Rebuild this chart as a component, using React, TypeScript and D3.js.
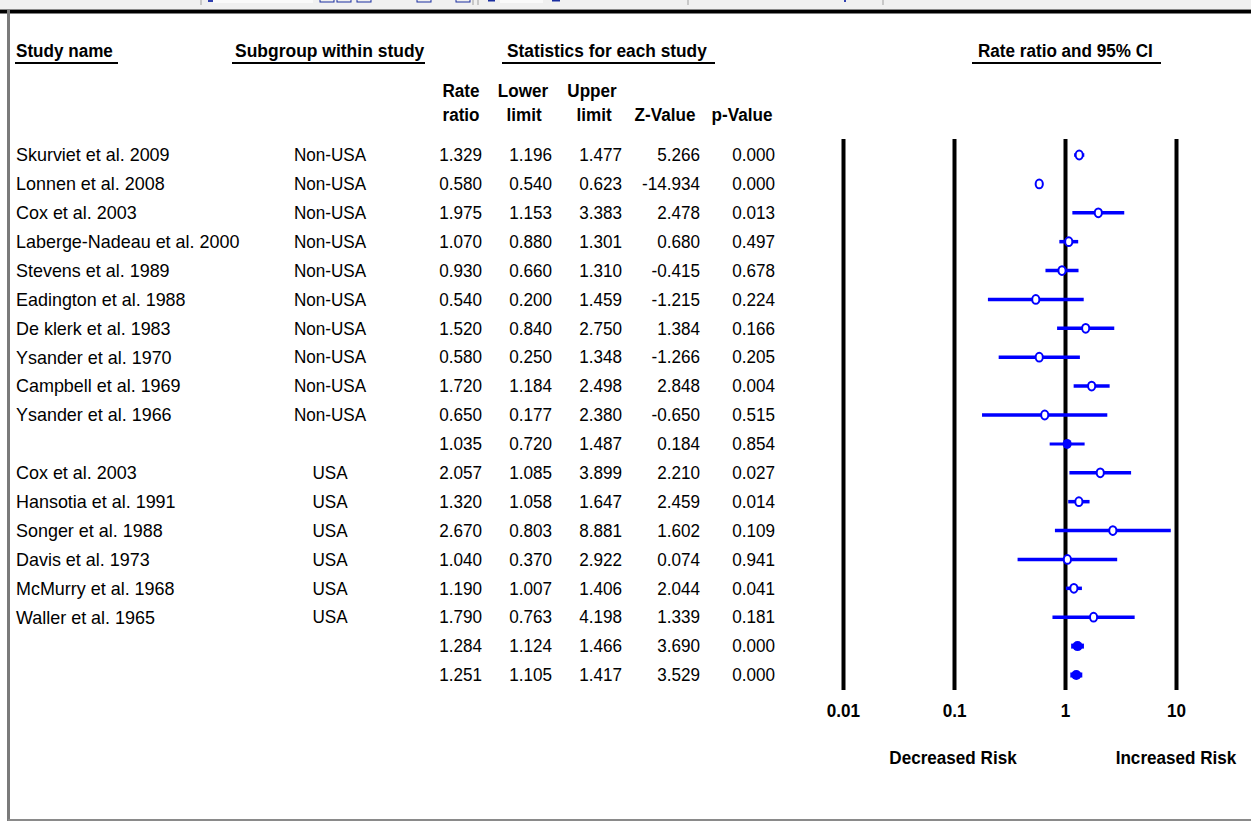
import React from "react";
import * as d3 from "d3";

// ---- data -------------------------------------------------------------
const studyNames = [
  "Skurviet et al. 2009",
  "Lonnen et al. 2008",
  "Cox et al. 2003",
  "Laberge-Nadeau et al. 2000",
  "Stevens et al. 1989",
  "Eadington et al. 1988",
  "De klerk et al. 1983",
  "Ysander et al. 1970",
  "Campbell et al. 1969",
  "Ysander et al. 1966",
  "",
  "Cox et al. 2003",
  "Hansotia et al. 1991",
  "Songer et al. 1988",
  "Davis et al. 1973",
  "McMurry et al. 1968",
  "Waller et al. 1965",
  "",
  "",
];
const subgroups = [
  "Non-USA", "Non-USA", "Non-USA", "Non-USA", "Non-USA",
  "Non-USA", "Non-USA", "Non-USA", "Non-USA", "Non-USA",
  "",
  "USA", "USA", "USA", "USA", "USA", "USA",
  "", "",
];
const rateRatio = [1.329, 0.58, 1.975, 1.07, 0.93, 0.54, 1.52, 0.58, 1.72, 0.65, 1.035, 2.057, 1.32, 2.67, 1.04, 1.19, 1.79, 1.284, 1.251];
const lowerLimit = [1.196, 0.54, 1.153, 0.88, 0.66, 0.2, 0.84, 0.25, 1.184, 0.177, 0.72, 1.085, 1.058, 0.803, 0.37, 1.007, 0.763, 1.124, 1.105];
const upperLimit = [1.477, 0.623, 3.383, 1.301, 1.31, 1.459, 2.75, 1.348, 2.498, 2.38, 1.487, 3.899, 1.647, 8.881, 2.922, 1.406, 4.198, 1.466, 1.417];
const zValue = [5.266, -14.934, 2.478, 0.68, -0.415, -1.215, 1.384, -1.266, 2.848, -0.65, 0.184, 2.21, 2.459, 1.602, 0.074, 2.044, 1.339, 3.69, 3.529];
const pValue = [0.0, 0.0, 0.013, 0.497, 0.678, 0.224, 0.166, 0.205, 0.004, 0.515, 0.854, 0.027, 0.014, 0.109, 0.941, 0.041, 0.181, 0.0, 0.0];
// "study" rows get an open marker, pooled rows a filled one
const rowKind = [
  "study", "study", "study", "study", "study", "study", "study", "study", "study", "study",
  "pooled",
  "study", "study", "study", "study", "study", "study",
  "pooled", "pooled",
];
const axisTicks = [0.01, 0.1, 1, 10];
const axisTickLabels = ["0.01", "0.1", "1", "10"];

// ---- layout -----------------------------------------------------------
const W = 1251;
const H = 821;
const FONT = "'Liberation Sans', Arial, sans-serif";
const FS = 19;
const SX = 0.9;
const BLUE = "#0000ff";

const fmt = d3.formatLocale({
  decimal: ".",
  thousands: ",",
  grouping: [3],
  currency: ["", ""],
  minus: "-",
}).format(".3f");

const x = d3.scaleLog().domain([0.01, 10]).range([843.5, 1176.5]);
const y = d3.scaleLinear().domain([0, rateRatio.length - 1]).range([155, 675]);

type TProps = {
  x: number;
  y: number;
  anchor?: "start" | "middle" | "end";
  bold?: boolean;
  sx?: number;
  children: React.ReactNode;
};

function T({ x, y, anchor = "start", bold = false, sx = SX, children }: TProps) {
  return (
    <text
      transform={`translate(${x},${y}) scale(${sx},1)`}
      textAnchor={anchor}
      dy="0.33em"
      fontFamily={FONT}
      fontSize={FS}
      fontWeight={bold ? 700 : 400}
      fill="#000"
    >
      {children}
    </text>
  );
}

const numCols = [
  { right: 482, values: rateRatio },
  { right: 552, values: lowerLimit },
  { right: 622, values: upperLimit },
  { right: 700, values: zValue },
  { right: 775, values: pValue },
];

// partial toolbar strip at the very top of the window
const toolbarBoxes = [320, 337, 357, 417, 456];
const toolbarSeps = [201, 473, 478, 688, 883];

export default function App() {
  const lineTop = 139;
  const lineBottom = 690;

  return (
    <svg
      width={W}
      height={H}
      viewBox={`0 0 ${W} ${H}`}
      style={{ position: "absolute", left: 0, top: 0, background: "#fff" }}
    >
      {/* window chrome */}
      <rect x={0} y={0} width={W} height={9} fill="#f0f0f0" />
      <rect x={213} y={0} width={100} height={3} fill="#fafafa" />
      <rect x={500} y={0} width={43} height={3} fill="#fafafa" />
      {toolbarBoxes.map((bx, i) => (
        <rect key={`tb${i}`} x={bx} y={-4} width={14} height={6} fill="none" stroke="#1a2ea0" strokeWidth={1} />
      ))}
      {toolbarSeps.map((sx, i) => (
        <line key={`ts${i}`} x1={sx} x2={sx} y1={0} y2={5} stroke="#a0a0a0" strokeWidth={1} />
      ))}
      <rect x={208} y={0} width={5} height={2} fill="#3040b0" />
      <rect x={552} y={0} width={8} height={1.5} fill="#1a2ea0" />
      <rect x={488} y={0} width={7} height={1.5} fill="#1a2ea0" />
      <rect x={844} y={0} width={2} height={2} fill="#3040b0" />
      <rect x={0} y={9} width={W} height={1} fill="#888" />
      <rect x={0} y={10} width={W} height={3.5} fill="#000" />
      <rect x={7} y={10} width={3} height={H - 10} fill="#7a7a7a" />
      <rect x={8} y={819} width={W - 8} height={2} fill="#8a8a8a" />

      {/* column headers */}
      <T x={16} y={51} bold>Study name</T>
      <T x={235} y={51} bold sx={0.92}>Subgroup within study</T>
      <T x={507} y={51} bold sx={0.91}>Statistics for each study</T>
      <T x={978} y={51} bold>Rate ratio and 95% CI</T>
      {[
        [15, 118],
        [232, 425],
        [502, 715],
        [972, 1161],
      ].map(([a, b], i) => (
        <line key={`ul${i}`} x1={a} x2={b} y1={63} y2={63} stroke="#000" strokeWidth={2} />
      ))}
      <T x={461} y={91} anchor="middle" bold>Rate</T>
      <T x={461} y={115} anchor="middle" bold>ratio</T>
      <T x={523} y={91} anchor="middle" bold>Lower</T>
      <T x={524} y={115} anchor="middle" bold>limit</T>
      <T x={592} y={91} anchor="middle" bold>Upper</T>
      <T x={594} y={115} anchor="middle" bold>limit</T>
      <T x={665} y={115} anchor="middle" bold>Z-Value</T>
      <T x={742} y={115} anchor="middle" bold>p-Value</T>

      {/* table body */}
      {rateRatio.map((_, i) => (
        <g key={`row${i}`}>
          {studyNames[i] && <T x={16} y={y(i)} sx={0.945}>{studyNames[i]}</T>}
          {subgroups[i] && <T x={330} y={y(i)} anchor="middle">{subgroups[i]}</T>}
          {numCols.map((c, j) => (
            <T key={`c${j}`} x={c.right} y={y(i)} anchor="end">
              {fmt(c.values[i])}
            </T>
          ))}
        </g>
      ))}

      {/* reference lines */}
      {axisTicks.map((t, i) => (
        <line key={`ax${i}`} x1={x(t)} x2={x(t)} y1={lineTop} y2={lineBottom} stroke="#000" strokeWidth={4} />
      ))}
      {axisTicks.map((t, i) => (
        <T key={`axl${i}`} x={x(t)} y={711} anchor="middle" bold>
          {axisTickLabels[i]}
        </T>
      ))}
      <T x={953} y={758} anchor="middle" bold>Decreased Risk</T>
      <T x={1176} y={758} anchor="middle" bold>Increased Risk</T>

      {/* confidence intervals and point estimates */}
      {rateRatio.map((rr, i) => {
        const pooled = rowKind[i] === "pooled";
        const big = pooled && i > 10;
        return (
          <g key={`ci${i}`}>
            <line
              x1={x(lowerLimit[i])}
              x2={x(upperLimit[i])}
              y1={y(i)}
              y2={y(i)}
              stroke={BLUE}
              strokeWidth={big ? 5 : pooled ? 3 : 3.5}
            />
            {pooled ? (
              <ellipse cx={x(rr)} cy={y(i)} rx={big ? 5 : 4.5} ry={5} fill={BLUE} />
            ) : (
              <ellipse cx={x(rr)} cy={y(i)} rx={3.6} ry={4.4} fill="#fff" stroke={BLUE} strokeWidth={2} />
            )}
          </g>
        );
      })}
    </svg>
  );
}
